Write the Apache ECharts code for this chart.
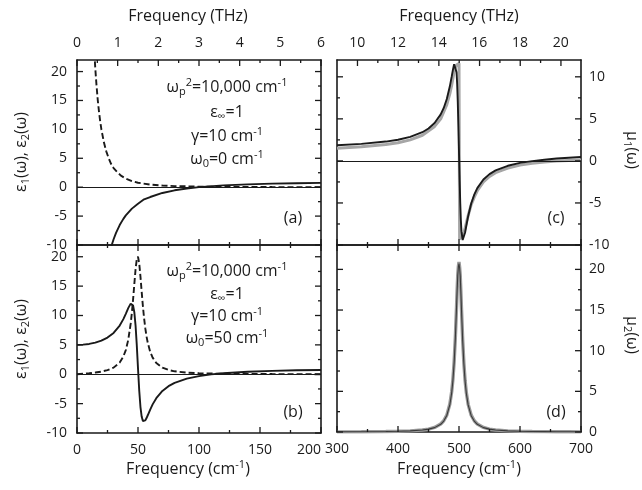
<!DOCTYPE html>
<html>
<head>
<meta charset="utf-8">
<title>Dielectric and magnetic response</title>
<script src="https://cdn.jsdelivr.net/npm/echarts@6/dist/echarts.min.js"></script>
<style>html,body{margin:0;padding:0;background:#fff;}</style>
</head>
<body>
<div id="main" style="width:642px;height:490px;"></div>
<script type="text/javascript">
// (a) free carriers, w0 = 0
var wA1   = [20, 25, 28, 30, 32, 35, 38, 40, 45, 50, 55, 60, 70, 80, 90, 100, 120, 140, 160, 180, 200];
var eps1A = [-19.0, -12.8, -10.31, -9.0, -7.90, -6.55, -5.48, -4.88, -3.71, -2.85, -2.10, -1.70, -1.0, -0.54, -0.22, 0.01, 0.31, 0.49, 0.61, 0.69, 0.75];
var wA2   = [12, 13, 14, 15, 16, 17, 18, 19, 20, 22, 24, 26, 28, 30, 33, 36, 40, 45, 50, 60, 70, 80, 100, 130, 160, 200];
var eps2A = [34.2, 28.6, 24.1, 20.5, 17.6, 15.1, 13.1, 11.4, 10.0, 7.8, 6.2, 5.0, 4.0, 3.3, 2.6, 2.0, 1.5, 1.05, 0.77, 0.45, 0.29, 0.19, 0.10, 0.05, 0.02, 0.01];

// (b) oscillator at 50 cm-1
var wB    = [0, 5, 10, 15, 20, 25, 30, 35, 38, 40, 42, 44, 45, 46, 47, 48, 49, 50, 51, 52, 53, 54, 55, 56, 57, 58, 60, 62, 65, 70, 75, 80, 90, 100, 110, 120, 140, 160, 180, 200];
var eps1B = [5.0, 5.04, 5.16, 5.38, 5.72, 6.24, 7.04, 8.29, 9.38, 10.28, 11.25, 12.02, 12.09, 11.69, 10.52, 8.29, 4.96, 1.0, -2.74, -5.54, -7.21, -7.95, -8.08, -7.86, -7.45, -6.98, -6.01, -5.13, -4.08, -2.84, -2.03, -1.46, -0.74, -0.31, -0.03, 0.17, 0.42, 0.57, 0.67, 0.73];
var eps2B = [0, 0.08, 0.17, 0.29, 0.45, 0.70, 1.13, 2.00, 3.02, 4.12, 5.85, 8.60, 10.51, 12.81, 15.38, 17.86, 19.61, 20.0, 18.87, 16.67, 14.08, 11.62, 9.51, 7.80, 6.43, 5.36, 3.82, 2.83, 1.91, 1.12, 0.73, 0.50, 0.28, 0.18, 0.12, 0.08, 0.05, 0.03, 0.02, 0.01];

// (c), (d) magnetic resonance near 500 cm-1 (black and grey curves)
var wC   = [300, 340, 380, 400, 420, 440, 450, 460, 470, 475, 480, 485, 488, 490, 492, 494, 496, 497, 498, 499, 500, 501, 502, 503, 504, 506, 508, 510, 512, 515, 520, 525, 530, 540, 550, 560, 580, 600, 620, 640, 660, 680, 700];
var mu1C = [1.86, 2.02, 2.30, 2.52, 2.86, 3.41, 3.85, 4.50, 5.53, 6.30, 7.37, 8.87, 10.02, 10.82, 11.50, 11.68, 10.54, 9.11, 6.98, 4.19, 1.0, -2.17, -4.91, -6.99, -8.35, -9.41, -9.21, -8.51, -7.71, -6.57, -5.07, -4.01, -3.24, -2.21, -1.57, -1.13, -0.58, -0.24, -0.02, 0.14, 0.29, 0.38, 0.46];
var wCg   = [300, 340, 380, 400, 420, 440, 460, 470, 480, 485, 488, 490, 492, 494, 496, 498, 500, 501, 502, 504, 506, 508, 510, 512, 515, 520, 525, 530, 540, 550, 560, 580, 600, 620, 640, 660, 680, 700];
var mu1Cg = [1.5, 1.68, 1.95, 2.15, 2.5, 3.05, 4.1, 5.0, 6.7, 8.0, 9.0, 9.8, 10.6, 11.1, 11.4, 11.6, 11.6, -9.3, -9.3, -9.0, -8.8, -8.5, -8.0, -7.4, -6.5, -5.2, -4.3, -3.55, -2.5, -1.85, -1.4, -0.85, -0.5, -0.28, -0.12, -0.02, 0.06, 0.12];
var mu2D  = [0.02, 0.03, 0.06, 0.09, 0.14, 0.25, 0.35, 0.54, 0.95, 1.34, 2.03, 3.36, 4.82, 6.32, 8.47, 11.5, 15.4, 17.5, 19.3, 20.3, 20.7, 20.2, 19.2, 17.3, 15.2, 11.3, 8.36, 6.25, 4.77, 3.33, 2.01, 1.34, 0.95, 0.54, 0.35, 0.24, 0.14, 0.09, 0.06, 0.05, 0.03, 0.03, 0.02];
var mu2Dg = [0.02, 0.03, 0.06, 0.09, 0.14, 0.25, 0.36, 0.56, 0.98, 1.38, 2.08, 3.45, 4.95, 6.45, 8.6, 11.6, 15.5, 17.6, 19.4, 20.4, 20.9, 20.3, 19.3, 17.4, 15.3, 11.4, 8.45, 6.33, 4.85, 3.4, 2.07, 1.38, 0.98, 0.56, 0.36, 0.25, 0.14, 0.09, 0.06, 0.05, 0.03, 0.03, 0.02];

// tick positions (major / minor)
var cmMajorAB = [0, 50, 100, 150, 200],   cmMinorAB = [25, 75, 125, 175];
var thzMajorA = [0, 1, 2, 3, 4, 5, 6],    thzMinorA = [0.5, 1.5, 2.5, 3.5, 4.5, 5.5];
var epsMajor  = [-10, -5, 0, 5, 10, 15, 20], epsMinor = [-7.5, -2.5, 2.5, 7.5, 12.5, 17.5];
var cmMajorCD = [300, 400, 500, 600, 700], cmMinorCD = [350, 450, 550, 650];
var thzMajorC = [10, 12, 14, 16, 18, 20], thzMinorC = [11, 13, 15, 17, 19];
var mu1Major  = [-10, -5, 0, 5, 10],      mu1Minor = [-7.5, -2.5, 2.5, 7.5];
var mu2Major  = [0, 5, 10, 15, 20],       mu2Minor = [2.5, 7.5, 12.5, 17.5];

var CM_PER_THZ = 33.356;

var FONT = '"Open Sans", "DejaVu Sans", sans-serif';
var INK = '#1a1a1a';

function ax(gi, pos, min, max, o) {
    var a = {
        type: 'value', gridIndex: gi, position: pos, min: min, max: max,
        axisLine: {show: true, onZero: false, lineStyle: {color: INK, width: 1.6}},
        axisTick: {show: false},
        axisLabel: {show: !!o.labels, color: INK, fontFamily: FONT, fontSize: 14, margin: o.margin || 8},
        splitLine: {show: false}
    };
    if (o.fmt) a.axisLabel.formatter = o.fmt;
    if (o.alignMax) a.axisLabel.alignMaxLabel = o.alignMax;
    if (o.interval) a.interval = o.interval;
    return a;
}

// labels only on multiples of five (the axis tops are not)
function byFive(v) {
    return Math.abs(v % 5) < 1e-6 ? String(v) : '';
}
// THz scale over 300-700 cm-1; labels counted from its min fall within 0.2 cm-1 of whole THz
var thzMinC = 300 / CM_PER_THZ, thzMaxC = 700 / CM_PER_THZ;
function evenThz(v) {
    var r = Math.round(v);
    return r % 2 === 0 ? String(r) : '';
}

// x: bottom, top for each panel a, b, c, d
var xAxes = [
    ax(0, 'bottom', 0, 200, {interval: 50}),
    ax(0, 'top', 0, 6, {interval: 1, labels: true, margin: 10}),
    ax(1, 'bottom', 0, 200, {interval: 50, labels: true, margin: 10, alignMax: 'right'}),
    ax(1, 'top', 0, 200, {interval: 50}),
    ax(2, 'bottom', 300, 700, {interval: 100}),
    ax(2, 'top', thzMinC, thzMaxC, {interval: 1, labels: true, fmt: evenThz, margin: 10}),
    ax(3, 'bottom', 300, 700, {interval: 100, labels: true, margin: 10}),
    ax(3, 'top', 300, 700, {interval: 100})
];

// y: left, right for each panel
var yAxes = [
    ax(0, 'left', -10, 22, {interval: 5, labels: true, fmt: byFive, margin: 10}),
    ax(0, 'right', -10, 22, {interval: 5}),
    ax(1, 'left', -10, 22, {interval: 5, labels: true, fmt: byFive, margin: 10}),
    ax(1, 'right', -10, 22, {interval: 5}),
    ax(2, 'left', -10, 12, {interval: 5}),
    ax(2, 'right', -10, 12, {interval: 5, labels: true, fmt: byFive, margin: 8}),
    ax(3, 'left', 0, 23, {interval: 5}),
    ax(3, 'right', 0, 23, {interval: 5, labels: true, fmt: byFive, margin: 8})
];

function pts(xs, ys) {
    return xs.map(function (x, i) { return [x, ys[i]]; });
}

var zeroLine = {
    silent: true, symbol: 'none', label: {show: false},
    lineStyle: {color: INK, width: 1, type: 'solid'},
    data: [{yAxis: 0}]
};

function curve(g, xs, ys, style, extra) {
    var s = {
        type: 'line', xAxisIndex: g * 2, yAxisIndex: g * 2,
        data: pts(xs, ys), symbol: 'none', silent: true, clip: true,
        lineStyle: style
    };
    for (var k in (extra || {})) s[k] = extra[k];
    return s;
}

var solid = {color: INK, width: 1.9};
var dashed = {color: INK, width: 1.9, type: [6, 3]};
var grey = {color: '#a6a6a6', width: 3};

var series = [
    curve(0, wA1, eps1A, solid, {markLine: zeroLine}),
    curve(0, wA2, eps2A, dashed),
    curve(1, wB, eps1B, solid, {markLine: zeroLine}),
    curve(1, wB, eps2B, dashed),
    curve(2, wCg, mu1Cg, grey, {markLine: zeroLine}),
    curve(2, wC, mu1C, solid, {z: 3}),
    curve(3, wC, mu2Dg, {color: '#9a9a9a', width: 3.4}),
    curve(3, wC, mu2D, {color: '#3a3a3a', width: 1.1}, {z: 3})
];

var rich = {
    m: {fontSize: 16, fontFamily: FONT, lineHeight: 20, fill: INK},
    s: {fontSize: 11, fontFamily: FONT, lineHeight: 11, verticalAlign: 'bottom', fill: INK},
    u: {fontSize: 11, fontFamily: FONT, lineHeight: 11, verticalAlign: 'top', fill: INK}
};

function note(x, y, text, rot) {
    return {
        type: 'text', x: x, y: y, rotation: rot || 0, silent: true,
        style: {text: text, fill: INK, align: 'center', verticalAlign: 'middle',
                textAlign: 'center', textVerticalAlign: 'middle', rich: rich}
    };
}

function params(x, ys, w0) {
    return [
        note(x, ys[0], '{m|ω}{s|p}{u|2}{m|=10,000 cm}{u|-1}'),
        note(x, ys[1], '{m|ε}{s|∞}{m|=1}'),
        note(x, ys[2], '{m|γ=10 cm}{u|-1}'),
        note(x, ys[3], '{m|ω}{s|0}{m|=' + w0 + ' cm}{u|-1}')
    ];
}

var graphics = []
    .concat(params(227, [87, 112, 136, 159], '0'))
    .concat(params(227, [271, 294, 316, 338], '50'))
    .concat([
        note(293, 218, '{m|(a)}'),
        note(293, 412, '{m|(b)}'),
        note(556, 218, '{m|(c)}'),
        note(556, 412, '{m|(d)}'),
        // axis titles
        note(188, 16, '{m|Frequency (THz)}'),
        note(459, 16, '{m|Frequency (THz)}'),
        note(188, 469, '{m|Frequency (cm}{u|-1}{m|)}'),
        note(459, 469, '{m|Frequency (cm}{u|-1}{m|)}'),
        note(21, 152, '{m|ε}{s|1}{m|(ω), ε}{s|2}{m|(ω)}', Math.PI / 2),
        note(21, 339, '{m|ε}{s|1}{m|(ω), ε}{s|2}{m|(ω)}', Math.PI / 2),
        note(632, 150, '{m|μ}{s|1}{m|(ω)}', -Math.PI / 2),
        note(632, 335, '{m|μ}{s|2}{m|(ω)}', -Math.PI / 2)
    ]);

var myChart = echarts.init(document.getElementById('main'));
myChart.setOption({
    animation: false,
    grid: [
        {left: 77, top: 60, width: 244, height: 185},
        {left: 77, top: 245, width: 244, height: 188},
        {left: 337, top: 60, width: 244, height: 185},
        {left: 337, top: 245, width: 244, height: 187}
    ],
    xAxis: xAxes,
    yAxis: yAxes,
    series: series,
    graphic: graphics
});

// inward tick marks, placed through the axes' own scales
var DIRS = [[0, -1], [0, 1], [1, 0], [-1, 0]]; // up, down, right, left
function along(vals, fixed, dir, len, horiz) {
    return vals.map(function (v) { return horiz ? [v, fixed, dir, len] : [fixed, v, dir, len]; });
}
function sideTicks(xMaj, xMin, yMaj, yMin, x0, x1, y0) {
    return [].concat(
        along(xMaj, y0, 0, 6, true), along(xMin, y0, 0, 3, true),
        along(yMaj, x0, 2, 6, false), along(yMin, x0, 2, 3, false),
        along(yMaj, x1, 3, 6, false), along(yMin, x1, 3, 3, false)
    );
}
function topTicks(maj, min, y1) {
    return along(maj, y1, 1, 6, true).concat(along(min, y1, 1, 3, true));
}
function tickLines(xi, yi, items) {
    return items.map(function (t) {
        var p = myChart.convertToPixel({xAxisIndex: xi, yAxisIndex: yi}, [t[0], t[1]]);
        var d = DIRS[t[2]];
        return {
            type: 'line', silent: true, z: 100,
            shape: {x1: p[0], y1: p[1], x2: p[0] + d[0] * t[3], y2: p[1] + d[1] * t[3]},
            style: {stroke: INK, lineWidth: 1.3}
        };
    });
}

var ticks = [].concat(
    tickLines(0, 0, sideTicks(cmMajorAB, cmMinorAB, epsMajor, epsMinor, 0, 200, -10)),
    tickLines(1, 0, topTicks(thzMajorA, thzMinorA, 22)),
    tickLines(2, 2, sideTicks(cmMajorAB, cmMinorAB, epsMajor, epsMinor, 0, 200, -10)),
    tickLines(2, 2, topTicks(cmMajorAB, cmMinorAB, 22)),
    tickLines(4, 4, sideTicks(cmMajorCD, cmMinorCD, mu1Major, mu1Minor, 300, 700, -10)),
    tickLines(5, 4, topTicks(thzMajorC, thzMinorC, 12)),
    tickLines(6, 6, sideTicks(cmMajorCD, cmMinorCD, mu2Major, mu2Minor, 300, 700, 0)),
    tickLines(6, 6, topTicks(cmMajorCD, cmMinorCD, 23))
);

myChart.setOption({graphic: graphics.concat(ticks)});
</script>
</body>
</html>
